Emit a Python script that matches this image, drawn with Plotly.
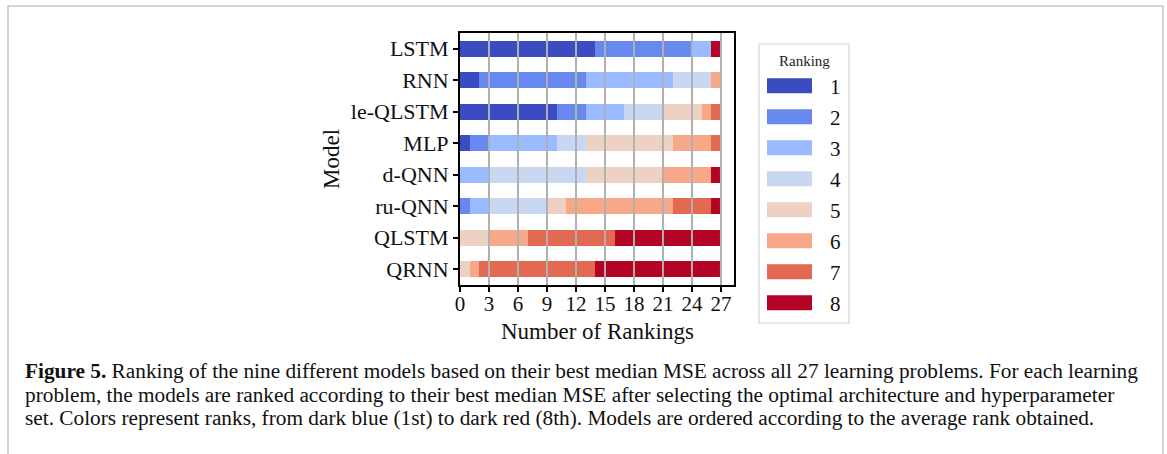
import plotly.graph_objects as go

models = ["LSTM", "RNN", "le-QLSTM", "MLP", "d-QNN", "ru-QNN", "QLSTM", "QRNN"]
rank_labels = ["1", "2", "3", "4", "5", "6", "7", "8"]
rank_colors = ["#3b4cc0", "#6788ee", "#9abbff", "#c9d7f0",
               "#edd1c2", "#f7a889", "#e26952", "#b40426"]

# counts[model] = number of times ranked 1..8
counts_lstm = [14, 10, 2, 0, 0, 0, 0, 1]
counts_rnn = [2, 11, 9, 4, 0, 1, 0, 0]
counts_leqlstm = [10, 3, 4, 4, 4, 1, 1, 0]
counts_mlp = [1, 2, 7, 3, 9, 4, 1, 0]
counts_dqnn = [0, 0, 3, 10, 8, 5, 0, 1]
counts_ruqnn = [0, 1, 2, 6, 2, 11, 4, 1]
counts_qlstm = [0, 0, 0, 0, 3, 4, 9, 11]
counts_qrnn = [0, 0, 0, 0, 1, 1, 12, 13]

x_ticks = [0, 3, 6, 9, 12, 15, 18, 21, 24, 27]

caption_lines = [
    "<b>Figure 5.</b> Ranking of the nine different models based on their best median MSE across all 27 learning problems. For each learning",
    "problem, the models are ranked according to their best median MSE after selecting the optimal architecture and hyperparameter",
    "set. Colors represent ranks, from dark blue (1st) to dark red (8th). Models are ordered according to the average rank obtained.",
]

all_counts = [counts_lstm, counts_rnn, counts_leqlstm, counts_mlp,
              counts_dqnn, counts_ruqnn, counts_qlstm, counts_qrnn]

W, H = 1167, 454
L, R, T, B = 460, 734, 33, 285  # plot area in pixels


def px(x):
    return (x - L) / (R - L)


def py(y):
    return (B - y) / (B - T)


SERIF = "Liberation Serif"
AX_SIZE = 21

fig = go.Figure()
for k, lab in enumerate(rank_labels):
    fig.add_trace(go.Bar(
        y=models,
        x=[c[k] for c in all_counts],
        orientation="h",
        name=lab,
        width=0.5,
        marker=dict(color=rank_colors[k], line=dict(width=0)),
        showlegend=False,
    ))

shapes = []
annotations = []

# vertical grid lines drawn over the bars (at the tick positions)
for t in x_ticks[1:]:
    shapes.append(dict(type="line", xref="x", yref="paper",
                       x0=t, x1=t, y0=0, y1=1,
                       line=dict(color="#b0b0b0", width=2), layer="above"))

# outer border of figure panel
shapes.append(dict(type="rect", xref="paper", yref="paper",
                   x0=px(8), x1=px(1163), y0=py(6), y1=py(470),
                   line=dict(color="#c6c6c6", width=1.5), fillcolor="rgba(0,0,0,0)"))

# legend box
lx0, lx1, ly0, ly1 = 759, 849, 44, 323
shapes.append(dict(type="rect", xref="paper", yref="paper",
                   x0=px(lx0), x1=px(lx1), y0=py(ly0), y1=py(ly1),
                   line=dict(color="#d4d4d4", width=1.2), fillcolor="white"))
annotations.append(dict(text="Ranking", xref="paper", yref="paper",
                        x=px(804), y=py(61), showarrow=False,
                        xanchor="center", yanchor="middle",
                        font=dict(family=SERIF, size=15, color="#222")))
for k, lab in enumerate(rank_labels):
    cy = 85.7 + k * 31.0
    shapes.append(dict(type="rect", xref="paper", yref="paper",
                       x0=px(767), x1=px(812), y0=py(cy - 7.5), y1=py(cy + 7.5),
                       line=dict(width=0), fillcolor=rank_colors[k]))
    annotations.append(dict(text=lab, xref="paper", yref="paper",
                            x=px(835), y=py(cy + 1), showarrow=False,
                            xanchor="center", yanchor="middle",
                            font=dict(family=SERIF, size=AX_SIZE, color="#111")))

# axis titles
annotations.append(dict(text="Model", xref="paper", yref="paper",
                        x=px(331), y=py(159), showarrow=False, textangle=-90,
                        xanchor="center", yanchor="middle",
                        font=dict(family=SERIF, size=23, color="#111")))
annotations.append(dict(text="Number of Rankings", xref="paper", yref="paper",
                        x=px(597), y=py(331), showarrow=False,
                        xanchor="center", yanchor="middle",
                        font=dict(family=SERIF, size=23, color="#111")))

# caption
for i, line in enumerate(caption_lines):
    annotations.append(dict(text=line, xref="paper", yref="paper",
                            x=px(23), y=py(371 + i * 23.5), showarrow=False,
                            xanchor="left", yanchor="middle",
                            font=dict(family=SERIF, size=21.3, color="#111")))

fig.update_layout(
    width=W, height=H,
    margin=dict(l=L, r=W - R, t=T, b=H - B, pad=0),
    barmode="stack",
    bargap=0.5,
    plot_bgcolor="white",
    paper_bgcolor="white",
    shapes=shapes,
    annotations=annotations,
    showlegend=False,
    xaxis=dict(
        range=[0, 28.35],
        tickmode="array", tickvals=x_ticks, ticktext=[str(t) for t in x_ticks],
        showgrid=False,
        zeroline=False,
        showline=True, linecolor="black", linewidth=2, mirror=True,
        ticks="outside", ticklen=5, tickwidth=1.5, tickcolor="black",
        ticklabelstandoff=-6,
        tickfont=dict(family=SERIF, size=AX_SIZE, color="#111"),
        layer="above traces",
    ),
    yaxis=dict(
        type="category",
        categoryorder="array", categoryarray=models,
        range=[7.5, -0.5],
        showgrid=False, zeroline=False,
        showline=True, linecolor="black", linewidth=2, mirror=True,
        ticks="outside", ticklen=5, tickwidth=1.5, tickcolor="black",
        tickfont=dict(family=SERIF, size=22, color="#111"),
        layer="above traces",
    ),
)

fig.write_html("out.html")
